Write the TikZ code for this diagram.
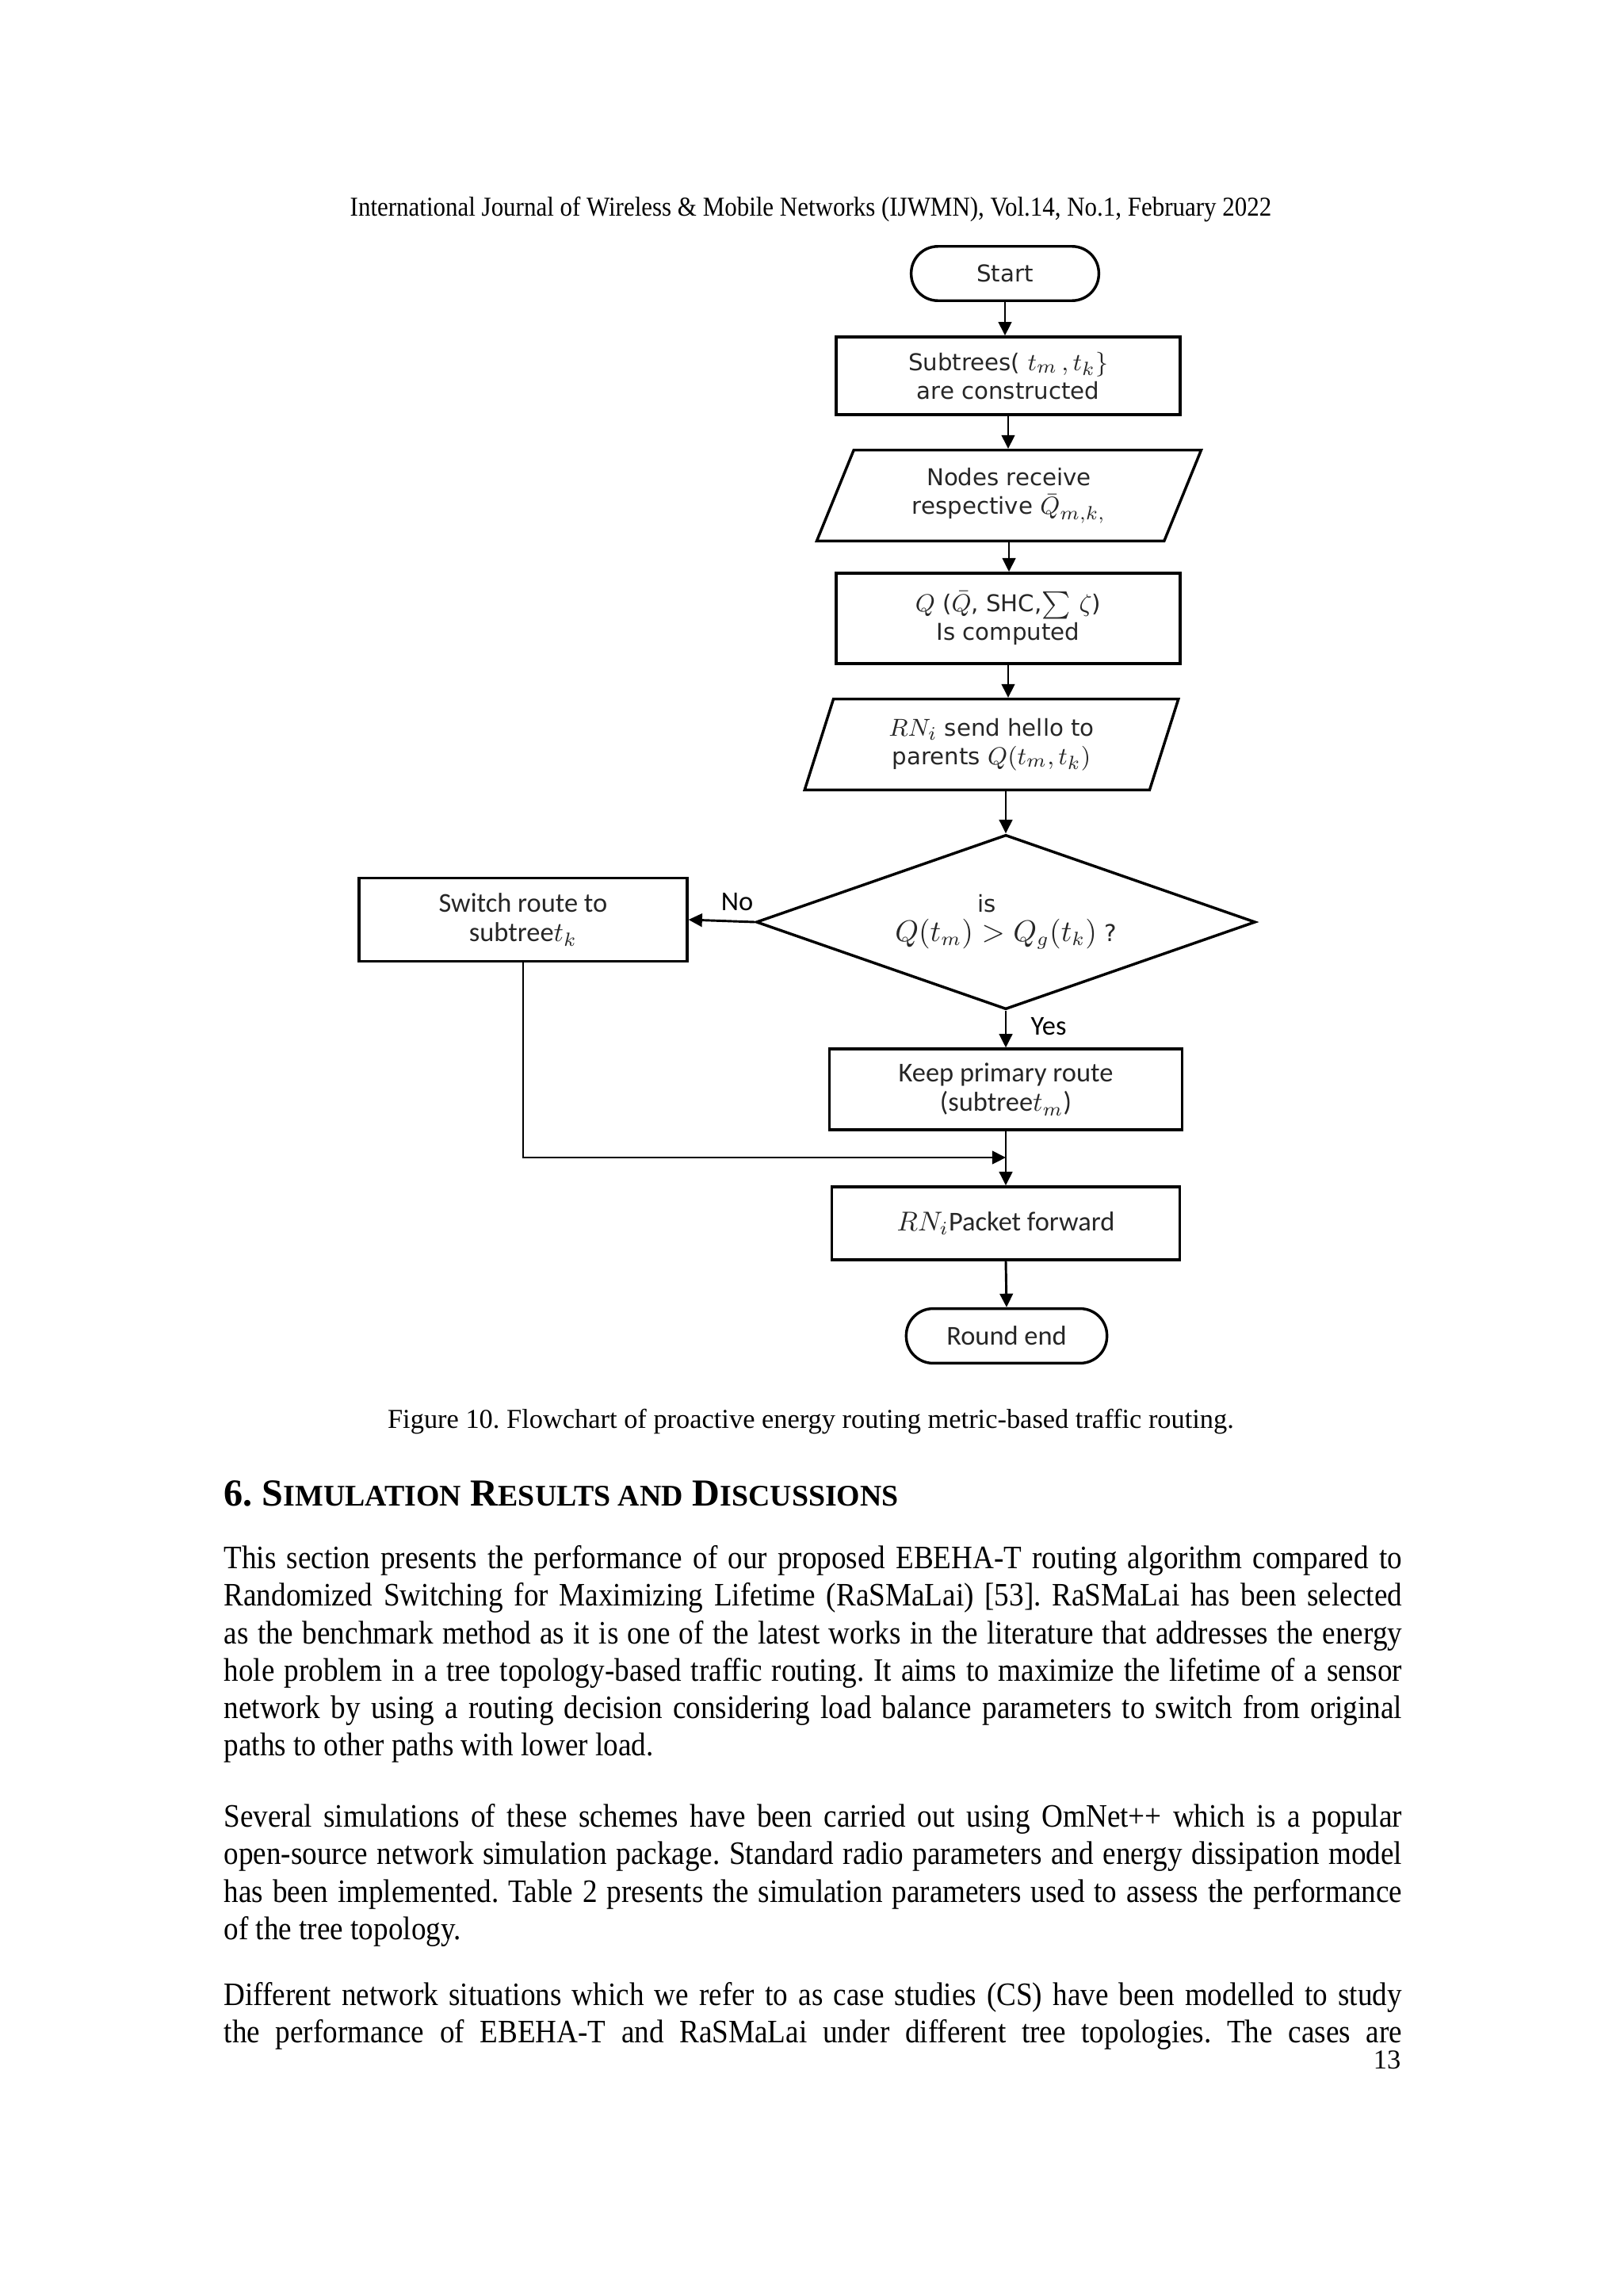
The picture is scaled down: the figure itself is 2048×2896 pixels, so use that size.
\documentclass[tikz,border=0pt]{standalone}
\usepackage{fontspec}
\usepackage{graphicx}
\setmainfont{Liberation Serif}
\newfontfamily\dvs{DejaVu Sans}
\newfontfamily\carl{Carlito}
\usetikzlibrary{shapes.geometric,arrows.meta}
\frenchspacing
\newcommand\jline[1]{\makebox[\linewidth][s]{#1}\\}
\newcommand\smc[1]{{\fontsize{11}{13}\selectfont #1}}
\newcommand\fm[1]{{\fontsize{9.5}{10}\selectfont$#1$}}
\newcommand\fmb[1]{{\fontsize{10.5}{11}\selectfont$#1$}}
\newcommand\condensed[2]{\scalebox{0.9}[1]{\parbox[t]{#1}{\frenchspacing #2}}}
\begin{document}
\begin{tikzpicture}[x=0.290662pt,y=-0.290662pt,
  fc/.style={draw, line width=1pt, align=center, inner sep=1pt, text=black!85},
  fontA/.style={font=\dvs\fontsize{8.5}{10.6}\selectfont},
  fontB/.style={font=\carl\fontsize{10}{10.8}\selectfont},
  boxr/.style={fc, rectangle},
  term/.style={fc, rectangle, rounded corners=9.8pt},
  io/.style={fc, trapezium, trapezium stretches=true},
  arr/.style={-{Triangle[length=5pt,width=4.8pt]}, line width=0.85pt},
  bodytext/.style={font=\fontsize{12}{13.7}\selectfont, inner sep=0pt, anchor=north west},
]
\useasboundingbox (0,0) rectangle (2048,2896);
\fill[white] (0,0) rectangle (2048,2896);

\node[font=\fontsize{10}{12}\selectfont] (hdr) at (1023,264) {\scalebox{0.9}[1]{International Journal of Wireless \& Mobile Networks (IJWMN), Vol.14, No.1, February 2022}};

\node[term, fontA, minimum width=68.8pt, minimum height=19.9pt] (start) at (1268,345) {Start};
\node[boxr, fontA, minimum width=126.2pt, minimum height=28.5pt] (sub) at (1272,474) {Subtrees( \fm{t_m\,,t_k\}}\\ are constructed};
\node[io, fontA, trapezium left angle=68.6, trapezium right angle=111.4, minimum width=141.8pt, minimum height=33.3pt] (recv) at (1273,625) {Nodes receive\\ respective \fm{\bar{Q}_{m,k,}}};
\node[boxr, fontA, minimum width=126.2pt, minimum height=33.2pt] (comp) at (1272,780) {\fm{Q}\ (\fm{\bar{Q}}, SHC,\fm{\sum\,\zeta})\\ Is computed};
\node[io, fontA, trapezium left angle=71.7, trapezium right angle=108.3, minimum width=137.5pt, minimum height=33.3pt] (hello) at (1251,939) {\fm{RN_i} send hello to\\ parents \fm{Q(t_m,t_k)}};
\node[fc, diamond, aspect=2.86, fontA, inner sep=0pt, minimum width=183.1pt, minimum height=64pt] (dec) at (1269,1163) {is\hspace*{14pt}\\ \fmb{Q(t_m) > Q_g(t_k)} ?};
\node[boxr, fontB, minimum width=120.3pt, minimum height=30.6pt] (sw) at (660,1160) {Switch route to\\ subtree$t_k$};
\node[boxr, fontB, minimum width=129.3pt, minimum height=29.6pt] (keep) at (1269,1374) {Keep primary route\\ (subtree$t_m$)};
\node[boxr, fontB, minimum width=127.7pt, minimum height=26.8pt] (fwd) at (1269,1543) {$RN_i$Packet forward};
\node[term, fontB, minimum width=73.6pt, minimum height=20pt] (rend) at (1270,1685) {Round end};
\node[fontB] (no) at (930,1138) {No};
\node[fontB] (yes) at (1323,1295) {Yes};
\coordinate (mrg) at (1269,1460);

\draw[arr] (start.south) -- (start.south |- sub.north);
\draw[arr] (sub.south) -- (sub.south |- recv.north);
\draw[arr] (recv.south) -- (recv.south |- comp.north);
\draw[arr] (comp.south) -- (comp.south |- hello.north);
\draw[arr] (hello.south -| dec.north) -- (dec.north);
\draw[arr] (dec.west) -- (sw.east);
\draw[arr] (dec.south) -- (keep.north);
\draw[arr] (keep.south) -- (fwd.north);
\draw[arr] (sw.south) |- (mrg);
\draw[arr] (fwd.south) -- (rend.north);

\node[font=\fontsize{10}{12}\selectfont] (cap) at (1023,1793) {Figure 10. Flowchart of proactive energy routing metric-based traffic routing.};

\node[anchor=west, inner sep=0pt, font=\bfseries\fontsize{14}{16}\selectfont] (sec) at (282,1884) {6. S\smc{IMULATION} R\smc{ESULTS AND} D\smc{ISCUSSIONS}};

\node[bodytext] (p1) at (282,1949) {\condensed{480pt}{\jline{This section presents the performance of our proposed EBEHA-T routing algorithm compared to}\jline{Randomized Switching for Maximizing Lifetime (RaSMaLai) [53]. RaSMaLai has been selected}\jline{as the benchmark method as it is one of the latest works in the literature that addresses the energy}\jline{hole problem in a tree topology-based traffic routing. It aims to maximize the lifetime of a sensor}\jline{network by using a routing decision considering load balance parameters to switch from original}paths to other paths with lower load.}};

\node[bodytext] (p2) at (282,2275) {\condensed{480pt}{\jline{Several simulations of these schemes have been carried out using OmNet++ which is a popular}\jline{open-source network simulation package. Standard radio parameters and energy dissipation model}\jline{has been implemented. Table 2 presents the simulation parameters used to assess the performance}of the tree topology.}};

\node[bodytext] (p3) at (282,2500) {\condensed{480pt}{\jline{Different network situations which we refer to as case studies (CS) have been modelled to study}\makebox[\linewidth][s]{the performance of EBEHA-T and RaSMaLai under different tree topologies. The cases are}}};

\node[anchor=east, inner sep=0pt, font=\fontsize{10}{12}\selectfont] (pg) at (1768,2598) {13};
\end{tikzpicture}
\end{document}
